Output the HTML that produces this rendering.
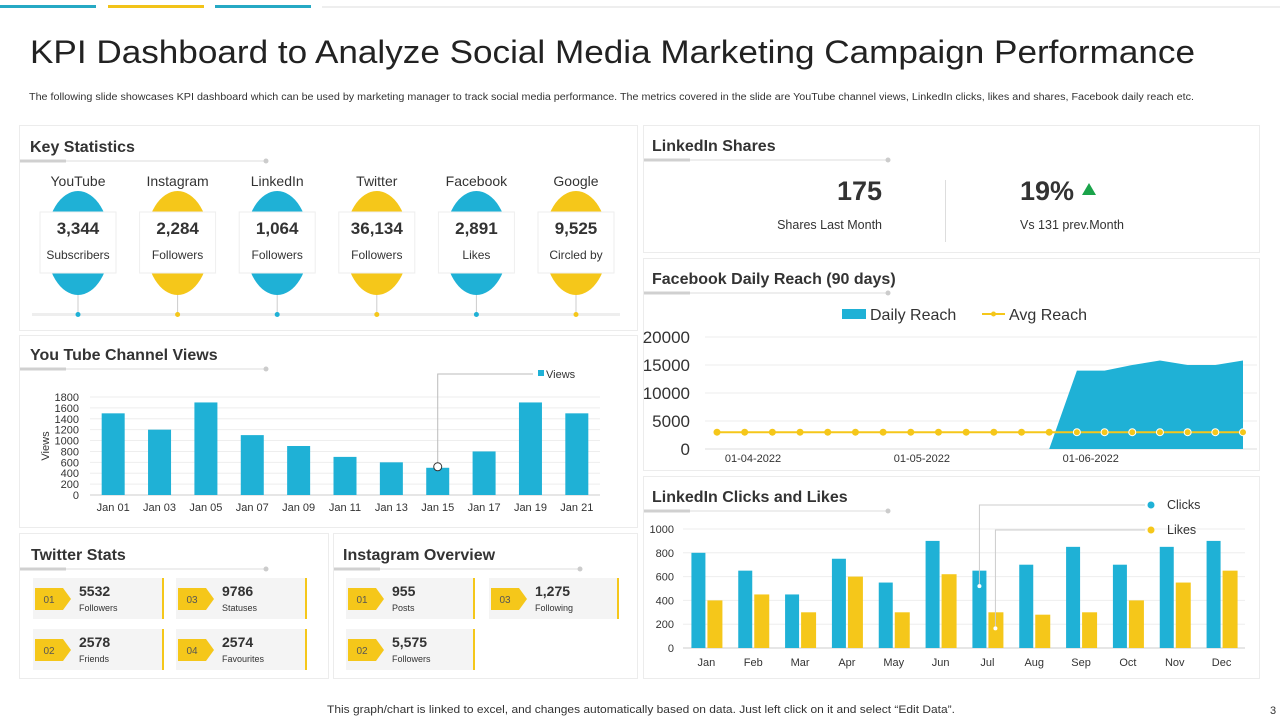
<!DOCTYPE html>
<html><head><meta charset="utf-8"><style>
html,body{margin:0;padding:0;background:#fff;}
svg{display:block;font-family:"Liberation Sans",Arial,sans-serif;}
</style></head><body>
<svg id="s" width="1280" height="720" viewBox="0 0 1280 720" xmlns="http://www.w3.org/2000/svg">
<rect width="1280" height="720" fill="#fff"/>
<g>
<rect x="0" y="5" width="96" height="3" fill="#26a9c4"/><rect x="108" y="5" width="96" height="3" fill="#f2c318"/><rect x="215" y="5" width="96" height="3" fill="#26a9c4"/><rect x="322" y="6" width="958" height="2" fill="#eeeeee"/>
</g>
<text x="30" y="63" font-size="32" fill="#222" textLength="1165" lengthAdjust="spacingAndGlyphs">KPI Dashboard to Analyze Social Media Marketing Campaign Performance</text>
<text x="29" y="100" font-size="10" fill="#333" textLength="1165" lengthAdjust="spacingAndGlyphs">The following slide showcases KPI dashboard which can be used by marketing manager to track social media  performance. The metrics covered in the slide are YouTube channel views, LinkedIn clicks, likes and shares, Facebook daily reach etc.</text>

<g fill="#fff" stroke="#ececec" stroke-width="1">
<rect x="19.5" y="125.5" width="618" height="205"/>
<rect x="19.5" y="335.5" width="618" height="192"/>
<rect x="19.5" y="533.5" width="309" height="145"/>
<rect x="333.5" y="533.5" width="304" height="145"/>
<rect x="643.5" y="125.5" width="616" height="127"/>
<rect x="643.5" y="258.5" width="616" height="212"/>
<rect x="643.5" y="476.5" width="616" height="202"/>
</g>
<g id="headers"></g>

<g id="keystats">
<rect x="32" y="313" width="588" height="3" fill="#eeeeee"/>
</g>

<g>
<text x="882" y="200" font-size="27" font-weight="bold" fill="#333" text-anchor="end">175</text>
<text x="882" y="229" font-size="12.5" fill="#333" text-anchor="end">Shares  Last Month</text>
<line x1="945.5" y1="180" x2="945.5" y2="242" stroke="#ddd"/>
<text x="1020" y="200" font-size="27" font-weight="bold" fill="#333">19%</text>
<polygon points="1082,195 1096,195 1089,183" fill="#1aa34a"/>
<text x="1020" y="229" font-size="12.5" fill="#333">Vs 131 prev.Month</text>
</g>

<g id="yt"></g>
<g id="fb"></g>
<g id="li"></g>
<g id="tiles"></g>

<text x="327" y="713" font-size="11" fill="#333" textLength="628" lengthAdjust="spacingAndGlyphs">This graph/chart is linked to excel,  and changes automatically based on data. Just left click on it and select “Edit Data”.</text>
<text x="1270" y="714" font-size="11" fill="#333">3</text>
</svg>
<script>
const statNames = ["YouTube","Instagram","LinkedIn","Twitter","Facebook","Google"];
const statValues = ["3,344","2,284","1,064","36,134","2,891","9,525"];
const statLabels = ["Subscribers","Followers","Followers","Followers","Likes","Circled by"];

const ytCategories = ["Jan 01","Jan 03","Jan 05","Jan 07","Jan 09","Jan 11","Jan 13","Jan 15","Jan 17","Jan 19","Jan 21"];
const ytViews = [1500,1200,1700,1100,900,700,600,500,800,1700,1500];
const ytTicks = [0,200,400,600,800,1000,1200,1400,1600,1800];

const fbDailyReach = [0,0,0,0,0,0,0,0,0,0,0,0,0,14000,14000,15000,15800,15000,15000,15800];
const fbAvgReach = [3000,3000,3000,3000,3000,3000,3000,3000,3000,3000,3000,3000,3000,3000,3000,3000,3000,3000,3000,3000];
const fbTicks = [0,5000,10000,15000,20000];
const fbDateLabels = ["01-04-2022","01-05-2022","01-06-2022"];
const fbDateIndex = [1.3,7.4,13.5];

const liMonths = ["Jan","Feb","Mar","Apr","May","Jun","Jul","Aug","Sep","Oct","Nov","Dec"];
const liClicks = [800,650,450,750,550,900,650,700,850,700,850,900];
const liLikes = [400,450,300,600,300,620,300,280,300,400,550,650];
const liTicks = [0,200,400,600,800,1000];

const twitterNums = ["5532","2578","9786","2574"];
const twitterLabels = ["Followers","Friends","Statuses","Favourites"];
const instaNums = ["955","5,575","1,275"];
const instaLabels = ["Posts","Followers","Following"];

const BLUE="#1fb1d6", YEL="#f5c71a";
const NS="http://www.w3.org/2000/svg";
function mk(parent,tag,attrs,text){const e=document.createElementNS(NS,tag);for(const k in attrs)e.setAttribute(k,attrs[k]);if(text!==undefined)e.textContent=text;parent.appendChild(e);return e;}

const hdr=document.getElementById('headers');
[["Key Statistics",30,152,20,161,266],["You Tube Channel Views",30,360,20,369,266],["Twitter Stats",31,560,20,569,266],["Instagram Overview",343,560,334,569,580],["LinkedIn Shares",652,151,644,160,888],["Facebook Daily Reach (90 days)",652,284,644,293,888],["LinkedIn Clicks and Likes",652,502,644,511,888]].forEach(h=>{
  const t=mk(hdr,'text',{x:h[1],y:h[2],'font-size':16,'font-weight':'bold',fill:'#333'},h[0]);
  
  
  mk(hdr,'line',{x1:h[3],y1:h[4],x2:h[5],y2:h[4],stroke:'#ddd','stroke-width':1});
  mk(hdr,'rect',{x:h[3],y:h[4]-1.5,width:46,height:3,fill:'#d0d0d0'});
  mk(hdr,'circle',{cx:h[5],cy:h[4],r:2.5,fill:'#ccc'});
});

const ks=document.getElementById('keystats');
statNames.forEach((n,i)=>{
  const cx=78+i*99.6, col=i%2?YEL:BLUE;
  const g=mk(ks,'g',{});
  
  
  mk(g,'line',{x1:cx,y1:290,x2:cx,y2:314,stroke:'#ccc'});
  mk(g,'circle',{cx:cx,cy:314.5,r:2.5,fill:col});
  mk(g,'ellipse',{cx:cx,cy:243,rx:32,ry:52,fill:col});
  mk(g,'rect',{x:cx-38,y:212,width:76,height:61,fill:'#fff',stroke:'#eee'});
  mk(g,'text',{x:cx,y:186,'font-size':14,fill:'#333','text-anchor':'middle'},n);
  mk(g,'text',{x:cx,y:234,'font-size':17,'font-weight':'bold',fill:'#333','text-anchor':'middle'},statValues[i]);
  mk(g,'text',{x:cx,y:259,'font-size':12,fill:'#333','text-anchor':'middle'},statLabels[i]);
});

(function(){
  const g=document.getElementById('yt');
  const x0=90,x1=600,y0=495,yTop=397,max=1800;
  const Y=v=>y0-(v/max)*(y0-yTop);
  const step=(x1-x0)/ytCategories.length;
  const X=i=>x0+step*(i+0.5);
  ytTicks.forEach(t=>{
    mk(g,'line',{x1:x0,y1:Y(t),x2:x1,y2:Y(t),stroke:t?'#eeeeee':'#ccc'});
    const tl=mk(g,'text',{x:79,y:Y(t)+4,'font-size':11,fill:'#333','text-anchor':'end'},t);
    
    
  });
  const at=mk(g,'text',{x:49,y:446,'font-size':11,fill:'#333','text-anchor':'middle',transform:'rotate(-90 49 446)'},'Views');
  
  
  ytViews.forEach((v,i)=>{
    const r=mk(g,'rect',{x:X(i)-11.5,y:Y(v),width:23,height:y0-Y(v),fill:BLUE});
    
    
    mk(g,'text',{x:X(i),y:511,'font-size':11,fill:'#333','text-anchor':'middle'},ytCategories[i]);
  });
  const ci=7;
  mk(g,'polyline',{points:`${X(ci)},${Y(ytViews[ci])} ${X(ci)},374 533,374`,fill:'none',stroke:'#bbb'});
  mk(g,'circle',{cx:X(ci),cy:Y(ytViews[ci])-1,r:4,fill:'#fff',stroke:'#333'});
  mk(g,'rect',{x:538,y:370,width:6,height:6,fill:BLUE});
  const lg=mk(g,'text',{x:546,y:378,'font-size':11,fill:'#333'},'Views');
  
  
})();

(function(){
  const g=document.getElementById('fb');
  const xl=705,xr=1257,y0=449,yTop=337,max=20000;
  const Y=v=>y0-(v/max)*(y0-yTop);
  const X=i=>717+i*(1243-717)/(fbAvgReach.length-1);
  fbTicks.forEach(t=>{
    mk(g,'line',{x1:xl,y1:Y(t),x2:xr,y2:Y(t),stroke:t?'#eeeeee':'#ddd'});
    const tl=mk(g,'text',{x:690,y:Y(t)+6,'font-size':17,fill:'#333','text-anchor':'end'},t);
    
    
  });
  let pts=`${X(0)},${y0} `;
  fbDailyReach.forEach((v,i)=>pts+=`${X(i)},${Y(v)} `);
  pts+=`${X(fbDailyReach.length-1)},${y0}`;
  const a=mk(g,'polygon',{points:pts,fill:BLUE});
  
  
  const lp=fbAvgReach.map((v,i)=>`${X(i)},${Y(v)}`).join(' ');
  const ln=mk(g,'polyline',{points:lp,fill:'none',stroke:YEL,'stroke-width':2});
  
  
  fbAvgReach.forEach((v,i)=>{
    const c=mk(g,'circle',{cx:X(i),cy:Y(v),r:3.5,fill:YEL,stroke:fbDailyReach[i]>v?'#fff':'none','stroke-width':1});
    
    
  });
  fbDateLabels.forEach((d,k)=>mk(g,'text',{x:X(fbDateIndex[k]),y:462,'font-size':11,fill:'#333','text-anchor':'middle'},d));
  mk(g,'rect',{x:842,y:309,width:24,height:10,fill:BLUE});
  const l1=mk(g,'text',{x:870,y:320,'font-size':16,fill:'#333'},'Daily Reach');
  
  
  mk(g,'line',{x1:982,y1:314,x2:1005,y2:314,stroke:YEL,'stroke-width':2});
  mk(g,'circle',{cx:993.5,cy:314,r:2.5,fill:YEL});
  const l2=mk(g,'text',{x:1009,y:320,'font-size':16,fill:'#333'},'Avg Reach');
  
  
})();

(function(){
  const g=document.getElementById('li');
  const x0=683,x1=1245,y0=648,yTop=529,max=1000;
  const Y=v=>y0-(v/max)*(y0-yTop);
  const step=(x1-x0)/liMonths.length;
  const X=i=>x0+step*(i+0.5);
  liTicks.forEach(t=>{
    mk(g,'line',{x1:x0,y1:Y(t),x2:x1,y2:Y(t),stroke:t?'#eeeeee':'#ccc'});
    const tl=mk(g,'text',{x:674,y:Y(t)+4,'font-size':11,fill:'#333','text-anchor':'end'},t);
    
    
  });
  liMonths.forEach((m,i)=>{
    const c=mk(g,'rect',{x:X(i)-15,y:Y(liClicks[i]),width:14,height:y0-Y(liClicks[i]),fill:BLUE});
    
    
    const l=mk(g,'rect',{x:X(i)+1,y:Y(liLikes[i]),width:15,height:y0-Y(liLikes[i]),fill:YEL});
    
    
    mk(g,'text',{x:X(i),y:666,'font-size':11,fill:'#333','text-anchor':'middle'},m);
  });
  const j=6;
  mk(g,'polyline',{points:`${X(j)-8},${Y(liClicks[j]*0.8)} ${X(j)-8},505 1145,505`,fill:'none',stroke:'#ccc'});
  mk(g,'polyline',{points:`${X(j)+8},${Y(liLikes[j]*0.55)} ${X(j)+8},530 1145,530`,fill:'none',stroke:'#ccc'});
  mk(g,'circle',{cx:X(j)-8,cy:Y(liClicks[j]*0.8),r:2,fill:'#fff'});
  mk(g,'circle',{cx:X(j)+8,cy:Y(liLikes[j]*0.55),r:2,fill:'#fff'});
  mk(g,'circle',{cx:1151,cy:505,r:3.5,fill:BLUE});
  const a=mk(g,'text',{x:1167,y:509,'font-size':12.5,fill:'#333'},'Clicks');
  
  
  mk(g,'circle',{cx:1151,cy:530,r:3.5,fill:YEL});
  const b=mk(g,'text',{x:1167,y:534,'font-size':12.5,fill:'#333'},'Likes');
  
  
})();

(function(){
  const g=document.getElementById('tiles');
  function tile(x,y,tag,num,lab,w){
    const t=mk(g,'g',{});
    
    
    mk(t,'rect',{x:x,y:y,width:w,height:41,fill:'#f4f4f4'});
    mk(t,'rect',{x:x+w-2,y:y,width:2,height:41,fill:YEL});
    mk(t,'polygon',{points:`${x+2},${y+10} ${x+30},${y+10} ${x+38},${y+21} ${x+30},${y+32} ${x+2},${y+32}`,fill:YEL});
    mk(t,'text',{x:x+16,y:y+25,'font-size':10,fill:'#555','text-anchor':'middle'},tag);
    mk(t,'text',{x:x+46,y:y+18,'font-size':14,'font-weight':'bold',fill:'#333'},num);
    mk(t,'text',{x:x+46,y:y+33,'font-size':9,fill:'#333'},lab);
  }
  tile(33,578,'01',twitterNums[0],twitterLabels[0],131);
  tile(33,629,'02',twitterNums[1],twitterLabels[1],131);
  tile(176,578,'03',twitterNums[2],twitterLabels[2],131);
  tile(176,629,'04',twitterNums[3],twitterLabels[3],131);
  tile(346,578,'01',instaNums[0],instaLabels[0],129);
  tile(346,629,'02',instaNums[1],instaLabels[1],129);
  tile(489,578,'03',instaNums[2],instaLabels[2],130);
})();
</script>
</body></html>
